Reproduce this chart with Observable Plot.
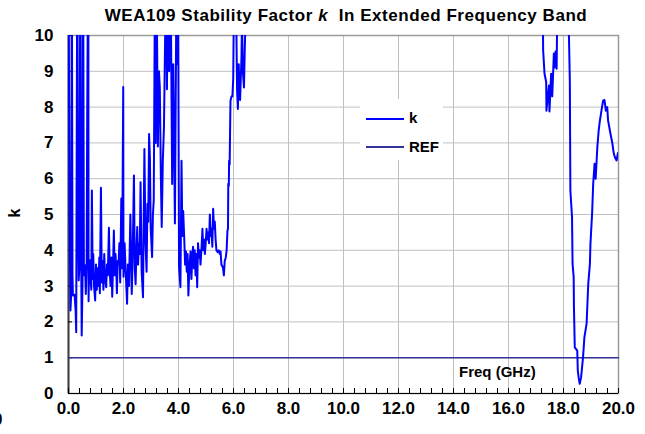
<!DOCTYPE html>
<html>
<head>
<meta charset="utf-8">
<script src="https://cdn.jsdelivr.net/npm/d3@7"></script>
<script src="https://cdn.jsdelivr.net/npm/@observablehq/plot@0.6"></script>
<style>
  html, body { margin: 0; padding: 0; background: #fff; overflow: hidden; }
  #wrap { position: relative; width: 645px; height: 434px; font-family: "Liberation Sans", Arial, sans-serif; font-weight: bold; color: #000; }
  #title { position: absolute; left: 71px; width: 550px; top: 6px; text-align: center; font-size: 17px; letter-spacing: 0.55px; white-space: nowrap; line-height: 20px; z-index: 2; }
  #chart { position: absolute; left: 0; top: 18px; }
  .ov { position: absolute; white-space: nowrap; }
  #legend { position: absolute; left: 360px; top: 99px; width: 83px; height: 61px; background: #fff; }
  .lg-line { position: absolute; left: 6px; width: 38px; height: 0; }
  .lg-text { position: absolute; left: 49px; font-size: 15px; line-height: 18px; }
</style>
</head>
<body>
<div id="wrap">
  <div id="chart"></div>
  <div id="title">WEA109 Stability Factor <i>k</i>&nbsp; In Extended Frequency Band</div>
  <div id="legend">
    <div class="lg-line" style="top:19px;border-top:2px solid #0000ff"></div>
    <div class="lg-text" style="top:10px">k</div>
    <div class="lg-line" style="top:47px;border-top:2px solid #333399"></div>
    <div class="lg-text" style="top:39px">REF</div>
  </div>
  <div class="ov" style="left:459px;top:363px;font-size:15px;line-height:18px;">Freq (GHz)</div>
  <div class="ov" style="left:11px;top:204px;font-size:16px;line-height:18px;transform:rotate(-90deg);">k</div>
  <div class="ov" style="left:-7px;top:410px;font-size:17px;line-height:20px;">0</div>
</div>
<script>
// Frequency (GHz) and stability factor k
const freq = [
  0.00,0.04,0.07,0.10,0.12,0.145,0.16,0.22,0.26,0.28,0.32,0.35,0.37,0.40,0.43,0.46,0.48,0.51,0.53,0.56,
  0.60,0.63,0.66,0.68,0.72,0.73,0.75,0.78,
  0.81,0.83,0.85,0.88,0.90,0.93,0.97,1.00,1.03,1.06,1.09,1.12,1.14,1.18,1.21,1.24,1.27,1.30,1.33,1.37,
  1.40,1.43,1.47,1.50,1.53,1.56,1.59,1.62,1.65,1.68,1.71,1.74,1.76,1.79,1.82,1.85,1.88,1.92,1.95,1.99,2.00,
  2.04,2.08,2.13,2.16,2.20,2.25,2.30,2.33,2.38,2.41,2.44,2.47,2.50,2.53,2.56,2.59,2.62,2.66,2.71,2.73,
  2.76,2.80,2.84,2.87,2.90,2.93,2.96,2.99,3.04,3.07,3.10,3.14,3.17,3.20,3.25,3.29,3.32,3.36,3.39,3.43,
  3.47,3.55,3.58,3.62,3.66,3.71,3.77,3.81,3.84,3.87,3.93,3.96,3.99,4.02,
  4.07,4.11,4.14,4.17,4.21,4.24,4.27,4.30,4.33,4.36,4.40,4.44,4.47,4.50,4.53,4.56,4.59,4.62,4.65,4.68,
  4.71,4.74,4.77,4.80,4.84,4.87,4.90,4.93,4.96,4.99,5.02,5.05,5.08,5.11,5.14,5.17,5.20,5.23,5.26,5.29,
  5.32,5.35,5.38,5.42,5.46,5.50,5.53,5.56,5.58,5.62,5.65,5.68,5.72,5.75,5.78,5.80,5.81,5.83,5.84,5.86,
  5.89,5.93,5.96,5.99,6.01,6.05,6.10,6.13,6.16,6.19,6.22,6.24,6.29,6.31,6.34,6.38,6.41,6.44,
  6.60,7.50,9.00,11.0,13.0,15.0,16.5,17.1,
  17.25,17.26,17.31,17.37,17.38,17.47,17.49,17.55,17.59,17.65,17.67,17.71,17.75,17.77,17.90,18.10,
  18.19,18.23,18.25,18.31,18.33,18.37,18.38,18.41,18.50,18.52,18.55,18.59,18.64,18.71,18.76,18.84,18.90,
  18.96,18.98,19.04,19.08,19.13,19.17,19.23,19.28,19.32,19.38,19.44,19.49,19.54,19.59,19.62,19.71,19.77,
  19.83,19.87,19.93,19.98,20.00
];
const kValues = [
  12,5,2.32,2.8,13,3.3,2.74,2.76,2.3,1.71,13,4.5,3.16,3.6,13,3.9,1.62,3.1,13,3.3,
  3.58,2.78,3.6,7.81,13,2.58,3.6,3.72,
  3.1,2.9,5.67,3.2,3.9,3.0,2.6,3.6,2.9,3.5,3.0,3.8,2.8,5.75,3.1,3.7,2.9,3.9,3.2,2.97,
  3.6,3.3,4.63,3.4,3.0,3.8,2.7,3.6,4.55,3.3,3.9,3.4,2.8,3.7,3.6,4.2,3.1,5.45,3.5,8.56,3.26,
  4.2,3.4,2.51,3.6,3.0,5.0,2.78,3.7,6.09,3.5,3.05,4.0,4.65,3.6,4.2,3.9,5.9,3.4,2.69,4.5,
  6.83,4.2,3.4,5.3,4.8,7.25,6.6,4.6,3.81,5.0,5.4,11,7.0,12,6.9,9.0,8.56,6.0,4.65,6.5,
  7.4,12,8.5,12,9.0,12,5.85,9.2,7.0,4.75,12,9.2,10.5,3.53,
  2.97,6.5,4.4,5.1,4.3,3.6,3.97,3.4,3.9,2.74,3.6,3.97,3.2,3.8,4.1,3.5,4.0,3.3,3.9,2.97,
  4.2,3.8,4.0,3.6,4.1,4.6,4.0,4.3,3.9,4.2,4.6,4.3,4.5,4.2,5.0,4.4,4.6,4.1,5.16,4.6,
  4.8,4.3,4.0,3.95,4.0,3.9,3.97,3.6,3.58,3.5,3.3,3.7,3.8,4.0,4.55,4.6,5.86,5.8,6.5,6.4,
  8.18,8.3,8.3,8.8,10.5,12,10.5,8.46,7.95,9.2,8.4,8.2,9.4,10.5,9.0,8.55,9.6,10.5,
  13,18,25,30,26,20,15,12,
  10.5,9.58,8.93,8.7,7.9,8.6,7.88,8.93,8.3,9.5,9.1,9.55,9.07,10.5,14,13,
  10.3,8.74,5.67,4.93,3.62,3.25,2.41,1.29,1.2,0.64,0.45,0.27,0.45,1.01,1.57,1.95,3.06,
  3.62,4.18,5.02,5.86,6.42,6.0,6.88,7.35,7.6,7.9,8.18,8.2,7.9,8.0,7.63,7.25,7.02,
  6.7,6.6,6.51,6.72,6.72
];
// REF series
const refFreq = [0, 20];
const refValues = [1, 1];
// Axis ticks
const xTickValues = [0, 2, 4, 6, 8, 10, 12, 14, 16, 18, 20];
const xMinorTicks = d3.range(0, 20.001, 0.4);
const yTickValues = [0, 1, 2, 3, 4, 5, 6, 7, 8, 9, 10];

const kData = freq.map((f, i) => ({f, k: kValues[i]}));
const refData = refFreq.map((f, i) => ({f, k: refValues[i]}));

const W = 645, H = 416, mT = 17, mB = 41, mL = 68, mR = 27;
const innerW = W - mL - mR, innerH = H - mT - mB;

const chart = Plot.plot({
  width: W,
  height: H,
  marginTop: mT,
  marginBottom: mB,
  marginLeft: mL,
  marginRight: mR,
  style: {fontFamily: '"Liberation Sans", Arial, sans-serif', background: "transparent", overflow: "visible"},
  x: {domain: [0, 20]},
  y: {domain: [0, 10]},
  marks: [
    Plot.gridX(xTickValues, {stroke: "#c0c0c0", strokeOpacity: 1, strokeWidth: 1}),
    Plot.gridY(yTickValues, {stroke: "#c0c0c0", strokeOpacity: 1, strokeWidth: 1}),
    Plot.frame({stroke: "#9a9a9a", strokeWidth: 1.5}),
    Plot.ruleX([0], {stroke: "#404040", strokeWidth: 2}),
    Plot.ruleY([0], {stroke: "#000", strokeWidth: 1.2}),
    Plot.tickX(xMinorTicks, {x: d => d, stroke: "#000", strokeWidth: 1, insetTop: innerH - 5}),
    Plot.tickY(yTickValues, {y: d => d, stroke: "#000", strokeWidth: 1, insetRight: innerW - 4}),
    Plot.axisX({ticks: xTickValues, tickSize: 0, tickPadding: 8, tickFormat: d => d.toFixed(1), fontSize: 17, fontWeight: "bold", label: null, style: {letterSpacing: "1.2px"}}),
    Plot.axisY({ticks: yTickValues, tickSize: 0, tickPadding: 15, fontSize: 17, fontWeight: "bold", label: null}),
    Plot.line(refData, {x: "f", y: "k", stroke: "#333399", strokeWidth: 1.5}),
    Plot.line(kData, {x: "f", y: "k", stroke: "#0000ff", strokeWidth: 2, clip: true})
  ]
});
document.getElementById("chart").appendChild(chart);
</script>
</body>
</html>
